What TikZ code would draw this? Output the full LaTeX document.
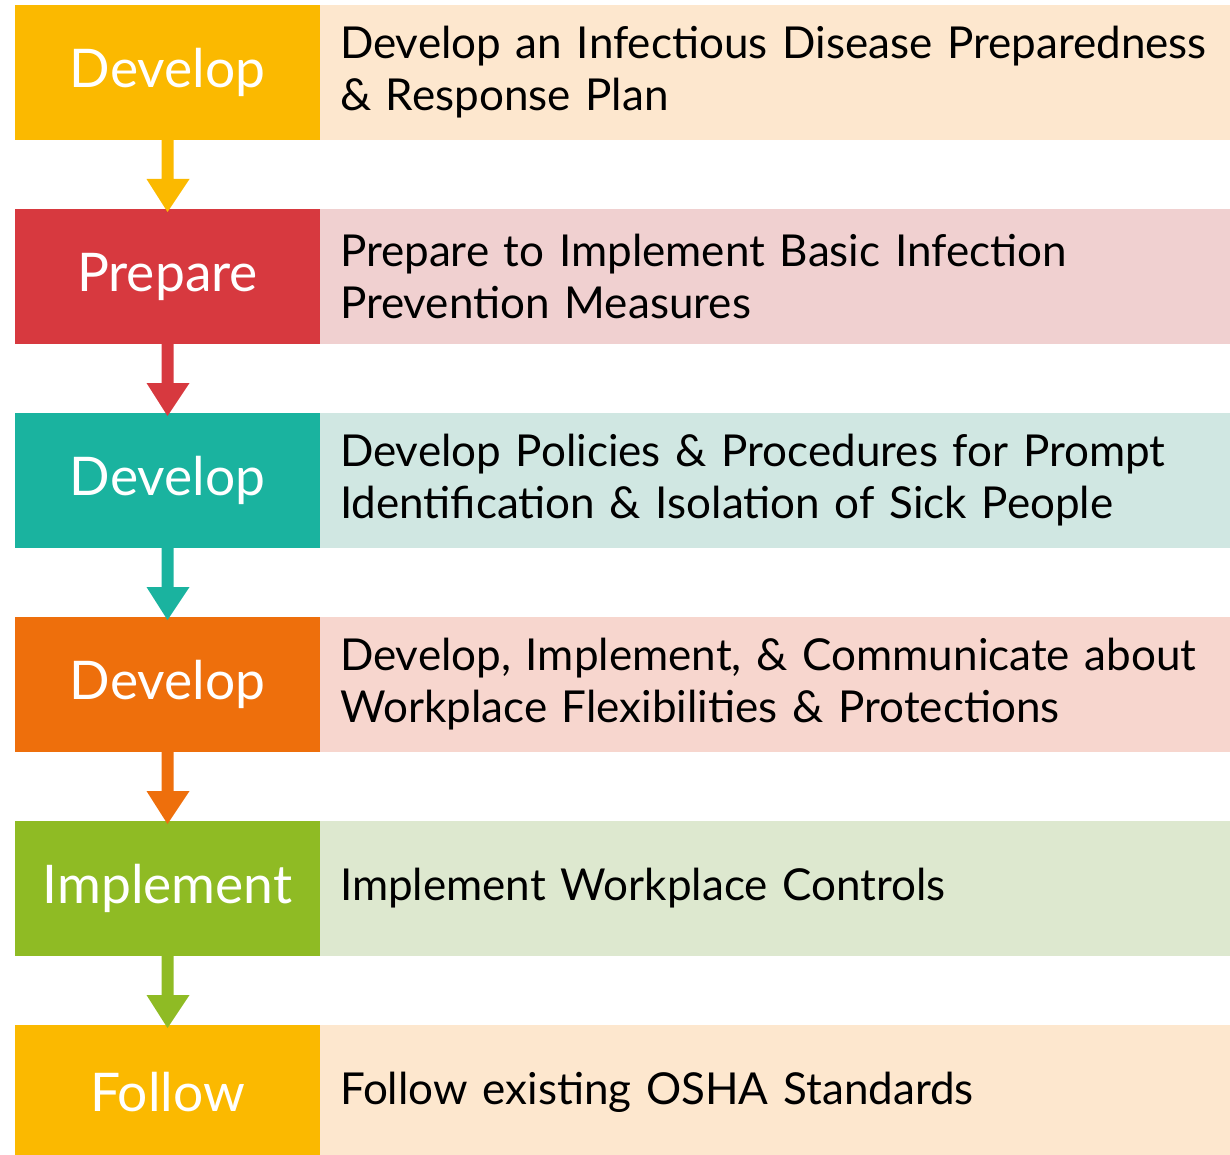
\documentclass[tikz,border=0pt]{standalone}
\usepackage{fontspec}
\setmainfont{Lato}
\usetikzlibrary{calc}

\definecolor{cYellow}{HTML}{FBB900}
\definecolor{cRed}{HTML}{D7393F}
\definecolor{cTeal}{HTML}{1AB39F}
\definecolor{cOrange}{HTML}{EE6F0C}
\definecolor{cGreen}{HTML}{8FBB24}
\definecolor{lPeach}{HTML}{FDE7CE}
\definecolor{lPink}{HTML}{F0D0D0}
\definecolor{lMint}{HTML}{D0E7E2}
\definecolor{lSalmon}{HTML}{F7D6CE}
\definecolor{lGreen}{HTML}{DDE8CF}

\tikzset{
  stagebox/.style={rectangle, inner sep=0pt, outer sep=0pt,
    minimum width=228.75pt, minimum height=101.25pt, text=white,
    font=\fontsize{40}{44}\selectfont},
  descbox/.style={rectangle, inner xsep=15pt, inner ysep=0pt, outer sep=0pt,
    minimum width=682.5pt, minimum height=101.25pt, text width=652.5pt,
    align=left, text=black, font=\fontsize{33}{39}\selectfont},
  flowarrow/.style={fill=#1, draw=none}
}

% one downward block arrow from stage #1 to stage #2
\newcommand{\stagearrow}[3]{%
  \fill[flowarrow=#3]
    ($(#1.south)+(-6,0)$) -- ($(#1.south)+(6,0)$)
    -- ($(#1.south)+(6,39)$) -- ($(#1.south)+(22,39)$)
    -- ($(#2.north)+(0,3)$)
    -- ($(#1.south)+(-21,39)$) -- ($(#1.south)+(-6,39)$) -- cycle;}

\begin{document}
\begin{tikzpicture}[x=0.75pt, y=-0.75pt]
\useasboundingbox (0,0) rectangle (1230,1155);

\node[stagebox, fill=cYellow] (s1) at (167.5,72.5) {Develop};
\node[descbox, fill=lPeach, anchor=west] (d1) at (s1.east)
  {Develop an Infectious Disease Preparedness\\ \& Response Plan};

\node[stagebox, fill=cRed] (s2) at (167.5,276.5) {Prepare};
\node[descbox, fill=lPink, anchor=west] (d2) at (s2.east)
  {Prepare to Implement Basic Infection\\ Prevention Measures};

\node[stagebox, fill=cTeal] (s3) at (167.5,480.5) {Develop};
\node[descbox, fill=lMint, anchor=west] (d3) at (s3.east)
  {Develop Policies \& Procedures for Prompt\\ Identification \& Isolation of Sick People};

\node[stagebox, fill=cOrange] (s4) at (167.5,684.5) {Develop};
\node[descbox, fill=lSalmon, anchor=west] (d4) at (s4.east)
  {Develop, Implement, \& Communicate about\\ Workplace Flexibilities \& Protections};

\node[stagebox, fill=cGreen] (s5) at (167.5,888.5) {Implement};
\node[descbox, fill=lGreen, anchor=west] (d5) at (s5.east)
  {Implement Workplace Controls};

\node[stagebox, fill=cYellow] (s6) at (167.5,1092.5) {Follow};
\node[descbox, fill=lPeach, anchor=west] (d6) at (s6.east)
  {Follow existing OSHA Standards};

\stagearrow{s1}{s2}{cYellow}
\stagearrow{s2}{s3}{cRed}
\stagearrow{s3}{s4}{cTeal}
\stagearrow{s4}{s5}{cOrange}
\stagearrow{s5}{s6}{cGreen}
\end{tikzpicture}
\end{document}
